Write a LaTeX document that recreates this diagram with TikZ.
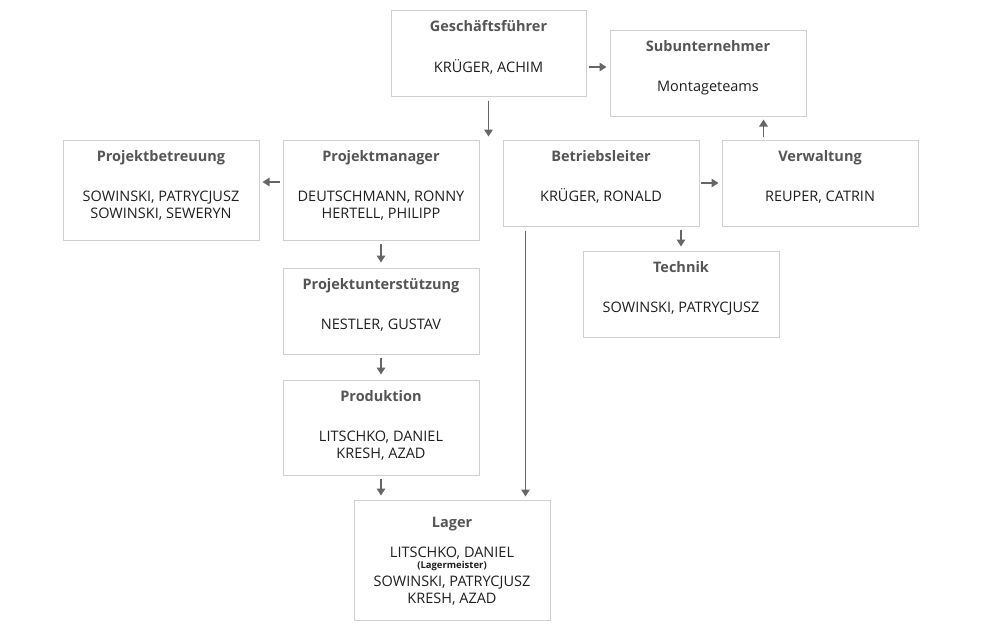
\documentclass[tikz,border=0pt]{standalone}
\usepackage{fontspec}
\setmainfont{Open Sans}
\usetikzlibrary{arrows.meta}
\definecolor{boxline}{HTML}{CFCFCF}
\definecolor{titlegray}{HTML}{555555}
\definecolor{namegray}{HTML}{1E1E1E}
\definecolor{arrowgray}{HTML}{666666}
\begin{document}
\begin{tikzpicture}[x=1pt,y=-1pt,
  orgbox/.style={draw=boxline, line width=1pt, rectangle, inner sep=0pt},
  ttl/.style={font=\fontsize{14.5}{17}\selectfont\bfseries, text=titlegray, inner sep=0pt, anchor=base},
  nm/.style={font=\fontsize{14.5}{17}\selectfont, text=namegray, inner sep=0pt, anchor=base},
  note/.style={font=\fontsize{9.5}{10}\selectfont\bfseries, text=namegray, inner sep=0pt, anchor=base},
  arr/.style={draw=arrowgray, line width=1.5pt, -{Triangle[length=7pt,width=8.5pt]}}
]
\useasboundingbox (0,0) rectangle (981,627);

% boxes: name, centre, size
\node[orgbox, minimum width=195pt, minimum height=86pt]  (gf)   at (488.5,53)  {};
\node[orgbox, minimum width=196pt, minimum height=86pt]  (sub)  at (708,73)    {};
\node[orgbox, minimum width=196pt, minimum height=100pt] (pb)   at (161,190)   {};
\node[orgbox, minimum width=196pt, minimum height=100pt] (pm)   at (381,190)   {};
\node[orgbox, minimum width=196pt, minimum height=86pt]  (bl)   at (601,183)   {};
\node[orgbox, minimum width=196pt, minimum height=86pt]  (verw) at (820,183)   {};
\node[orgbox, minimum width=196pt, minimum height=86pt]  (tech) at (681,294)   {};
\node[orgbox, minimum width=196pt, minimum height=86pt]  (pu)   at (381,311)   {};
\node[orgbox, minimum width=196pt, minimum height=95pt]  (prod) at (381,427.5) {};
\node[orgbox, minimum width=196pt, minimum height=120pt] (lager) at (452,560)  {};

% titles (baselines below the top edge)
\node[ttl] at ([yshift=-22pt]gf.north)    {Geschäftsführer};
\node[ttl] at ([yshift=-22pt]sub.north)   {Subunternehmer};
\node[ttl] at ([yshift=-22pt]pb.north)    {Projektbetreuung};
\node[ttl] at ([yshift=-22pt]pm.north)    {Projektmanager};
\node[ttl] at ([yshift=-22pt]bl.north)    {Betriebsleiter};
\node[ttl] at ([yshift=-22pt]verw.north)  {Verwaltung};
\node[ttl] at ([yshift=-22pt]tech.north)  {Technik};
\node[ttl] at ([yshift=-22pt]pu.north)    {Projektunterstützung};
\node[ttl] at ([yshift=-22pt]prod.north)  {Produktion};
\node[ttl] at ([yshift=-28pt]lager.north) {Lager};

% names, one node per line
\node[nm] at ([yshift=-62.5pt]gf.north)  {KRÜGER, ACHIM};
\node[nm] at ([yshift=-62pt]sub.north)   {Montageteams};
\node[nm] at ([yshift=-62pt]pb.north)    {SOWINSKI, PATRYCJUSZ};
\node[nm] at ([yshift=-79pt]pb.north)    {SOWINSKI, SEWERYN};
\node[nm] at ([yshift=-62pt]pm.north)    {DEUTSCHMANN, RONNY};
\node[nm] at ([yshift=-79pt]pm.north)    {HERTELL, PHILIPP};
\node[nm] at ([yshift=-62pt]bl.north)    {KRÜGER, RONALD};
\node[nm] at ([yshift=-62pt]verw.north)  {REUPER, CATRIN};
\node[nm] at ([yshift=-62pt]tech.north)  {SOWINSKI, PATRYCJUSZ};
\node[nm] at ([yshift=-62pt]pu.north)    {NESTLER, GUSTAV};
\node[nm] at ([yshift=-62pt]prod.north)  {LITSCHKO, DANIEL};
\node[nm] at ([yshift=-79pt]prod.north)  {KRESH, AZAD};
\node[nm]   at ([yshift=-58pt]lager.north)  {LITSCHKO, DANIEL};
\node[note] at ([yshift=-69pt]lager.north)  {(Lagermeister)};
\node[nm]   at ([yshift=-87pt]lager.north)  {SOWINSKI, PATRYCJUSZ};
\node[nm]   at ([yshift=-104pt]lager.north) {KRESH, AZAD};

% connector end points that are offset from the box anchors
\coordinate (gfout)   at ([yshift=-14pt]gf.east);
\coordinate (pmout)   at ([yshift=8pt]pm.west);
\coordinate (blout)   at ([xshift=23pt]bl.south west);
\coordinate (verwout) at ([xshift=42pt]verw.north west);

% connectors
\draw[arr, shorten <=4pt, shorten >=3pt] (gf.south) -- (gf.south |- pm.north);
\draw[arr, shorten <=2pt, shorten >=3pt] (gfout) -- (sub.west |- gfout);
\draw[arr, shorten <=3pt, shorten >=3pt] (pmout) -- (pb.east |- pmout);
\draw[arr, shorten <=3pt, shorten >=5pt] (pm.south) -- (pu.north);
\draw[arr, shorten <=3pt, shorten >=5pt] (pu.south) -- (prod.north);
\draw[arr, shorten <=3pt, shorten >=4pt] (prod.south) -- (prod.south |- lager.north);
\draw[arr, shorten <=4pt, shorten >=3pt] (blout) -- (blout |- lager.north);
\draw[arr, shorten <=1pt, shorten >=3pt] (bl.east) -- (verw.west);
\draw[arr, shorten <=3pt, shorten >=4pt] (tech.north |- bl.south) -- (tech.north);
\draw[arr, shorten <=3pt, shorten >=3pt] (verwout) -- (verwout |- sub.south);
\end{tikzpicture}
\end{document}
